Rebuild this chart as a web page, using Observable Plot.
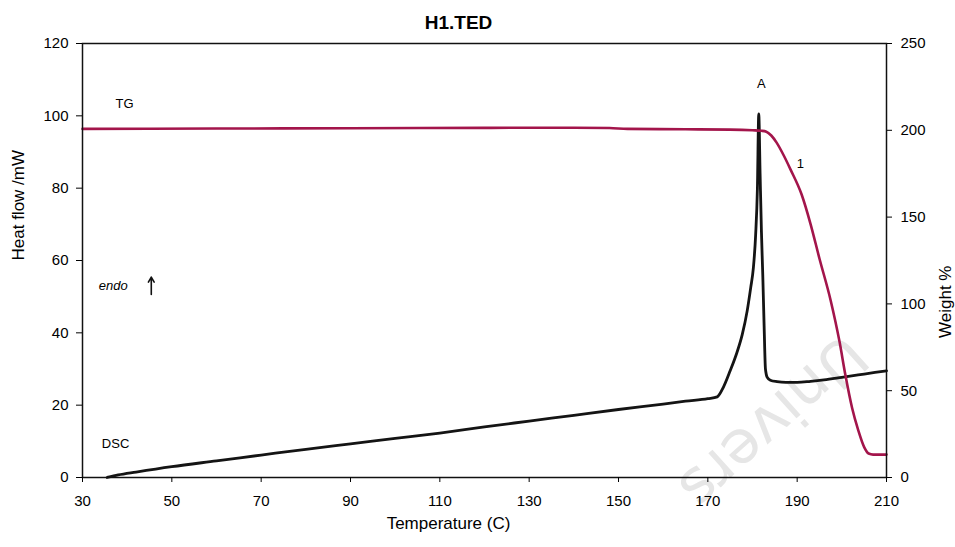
<!DOCTYPE html>
<html><head><meta charset="utf-8">
<script src="https://cdn.jsdelivr.net/npm/d3@7"></script>
<script src="https://cdn.jsdelivr.net/npm/@observablehq/plot@0.6"></script>
<style>
html,body{margin:0;padding:0;background:#fff;}
#chart svg{display:block;}
</style></head><body><div id="chart"></div>
<script>
const chartTitle = "H1.TED";
const xLabel = "Temperature (C)";
const yLeftLabel = "Heat flow /mW";
const yRightLabel = "Weight %";

// DSC curve (heat flow, mW) vs temperature (C)
const dscTemp = [35.5, 38, 42, 50, 60, 70, 80, 90, 100, 110, 120, 130, 140, 150, 160, 165, 170, 172.1, 173.5, 175, 176.5, 177.7, 178.8, 179.6, 180.2, 180.7, 181.1, 181.4, 181.7, 182.0, 182.3, 182.6, 182.9, 183.3, 184, 185.5, 187.5, 190, 193, 196, 200, 205, 210];
const dscHeat = [0, 0.7, 1.5, 3, 4.6, 6.2, 7.8, 9.3, 10.8, 12.3, 14, 15.6, 17.2, 18.8, 20.3, 21.1, 21.8, 22.3, 25.0, 29.5, 34.5, 39.5, 46, 52.5, 58, 67, 80, 100.5, 84, 68, 56, 42, 30, 27.7, 26.9, 26.5, 26.3, 26.3, 26.6, 27.0, 27.7, 28.6, 29.5];

// TG curve (weight %) vs temperature (C)
const tgTemp = [30, 60, 90, 120, 140, 148, 152, 165, 175, 180, 182, 183.1, 184.2, 185.4, 187, 188.5, 191, 193, 195, 197.5, 199.5, 200.8, 202.3, 203.7, 205, 206, 207, 210];
const tgWeight = [200.8, 201, 201.2, 201.4, 201.5, 201.3, 200.8, 200.6, 200.4, 200, 199.7, 199.2, 197, 192.9, 185.5, 177.5, 163, 146, 126, 102, 78, 59, 40, 27, 17.5, 13.8, 13.2, 13.2];

const xTicks = [30, 50, 70, 90, 110, 130, 150, 170, 190, 210];
const leftTicks = [0, 20, 40, 60, 80, 100, 120];
const rightTicks = [0, 50, 100, 150, 200, 250];

const noteText = ["TG", "DSC", "A", "1"];
const noteTemp = [39.4, 37.4, 182, 190.7];
const noteHeat = [103.4, 9.3, 108.9, 86.8];

const endoText = ["endo"];
const endoTemp = [36.9];
const endoHeat = [53];
const arrowTemp = [45.4];
const arrowFrom = [50.6];
const arrowTo = [55.4];

const markText = ["Univers"];
const markTemp = [203.3];
const markHeat = [36.4];

const leftMax = 120, rightMax = 250;
const k = leftMax / rightMax;

const dsc = dscTemp.map((t, i) => ({t, h: dscHeat[i]}));
const tg = tgTemp.map((t, i) => ({t, w: tgWeight[i]}));
const notes = noteText.map((s, i) => ({s, t: noteTemp[i], h: noteHeat[i]}));
const endo = endoText.map((s, i) => ({s, t: endoTemp[i], h: endoHeat[i]}));
const arrows = arrowTemp.map((t, i) => ({t, a: arrowFrom[i], b: arrowTo[i]}));
const wm = markText.map((s, i) => ({s, t: markTemp[i], h: markHeat[i]}));

const chart = Plot.plot({
  width: 955,
  height: 547,
  marginLeft: 82,
  marginRight: 69,
  marginTop: 43,
  marginBottom: 70,
  x: {domain: [30, 210]},
  y: {domain: [0, leftMax]},
  style: {fontFamily: "'Liberation Sans', Arial, sans-serif", fontSize: "15px", color: "#000", background: "#fff"},
  marks: [
    Plot.text(wm, {x: "t", y: "h", text: "s", rotate: 138, textAnchor: "start", lineAnchor: "middle", fontSize: 60, fontFamily: "'DejaVu Sans', sans-serif", fill: "#e6e6e6"}),
    Plot.line(dsc, {x: "t", y: "h", stroke: "#141414", strokeWidth: 2.8, curve: "monotone-x"}),
    Plot.line(tg, {x: "t", y: d => d.w * k, stroke: "#a3154b", strokeWidth: 2.6, curve: "monotone-x"}),
    Plot.frame({stroke: "#111", strokeWidth: 1.5}),
    Plot.axisX({ticks: xTicks, tickSize: 5, tickPadding: 13, label: null}),
    Plot.axisY({ticks: leftTicks, tickSize: 6, tickPadding: 8, label: null}),
    Plot.axisY({anchor: "right", ticks: rightTicks.map(v => v * k), tickFormat: v => Math.round(v / k), tickSize: 5, tickPadding: 9, label: null}),
    Plot.text([chartTitle], {text: d => d, frameAnchor: "top", dy: -28, dx: -26, fontSize: 19, fontWeight: "bold"}),
    Plot.text([xLabel], {text: d => d, frameAnchor: "bottom", dy: 51, dx: -36, fontSize: 17}),
    Plot.text([yLeftLabel], {text: d => d, frameAnchor: "left", dx: -64, rotate: -90, fontSize: 17}),
    Plot.text([yRightLabel], {text: d => d, frameAnchor: "right", dx: 59, dy: 5, rotate: -90, fontSize: 17}),
    Plot.text(notes, {x: "t", y: "h", text: "s", fontSize: 13}),
    Plot.text(endo, {x: "t", y: "h", text: "s", fontSize: 13, fontStyle: "italic"}),
    Plot.arrow(arrows, {x1: "t", y1: "a", x2: "t", y2: "b", stroke: "#111", strokeWidth: 1.6, headLength: 7})
  ]
});
document.getElementById("chart").append(chart);
</script>
</body></html>
